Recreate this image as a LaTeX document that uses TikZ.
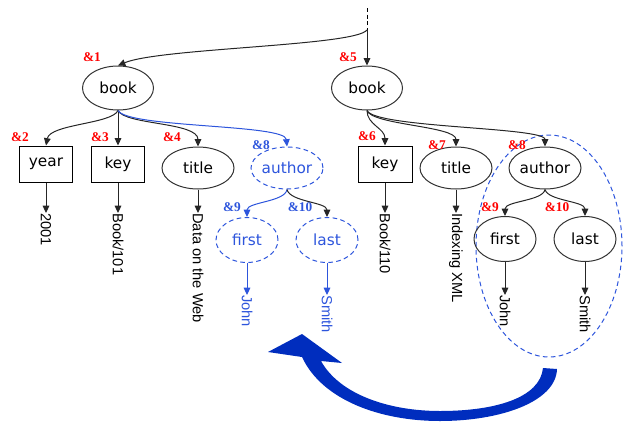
\documentclass[tikz,border=0pt]{standalone}
\usepackage{fontspec}
\setmainfont{DejaVu Sans}
\newfontfamily\vfont{Liberation Sans}
\newfontfamily\lfont{Liberation Serif}
\usetikzlibrary{shapes.geometric,arrows.meta,calc}
\definecolor{bl}{RGB}{45,85,220}
\definecolor{bigbl}{RGB}{0,45,190}
\definecolor{lred}{RGB}{255,0,0}
\tikzset{
  arr/.style={-{Triangle[length=5.5pt,width=5pt]}, line width=0.75pt, draw=black!85},
  barr/.style={arr, draw=bl, -{Triangle[length=5.5pt,width=5pt]}, bl},
  elln/.style={ellipse, draw=black!80, line width=0.75pt, inner sep=0pt,
    minimum width=54pt, minimum height=31.5pt, font=\fontsize{11.5}{12}\selectfont},
  bookn/.style={elln, minimum width=53.25pt, minimum height=33pt},
  smalln/.style={elln, minimum width=46.5pt, minimum height=33.75pt},
  boxn/.style={rectangle, draw=black, line width=0.75pt, inner sep=0pt,
    minimum width=39.75pt, minimum height=27pt, font=\fontsize{11.5}{12}\selectfont},
  dashn/.style={draw=bl, text=bl, dash pattern=on 3.5pt off 2.5pt},
  vtext/.style={rotate=-90, anchor=west, inner sep=0pt, font=\vfont\fontsize{11}{12}\selectfont},
  lab/.style={inner sep=0pt, text=lred, font=\lfont\bfseries\fontsize{10}{11}\selectfont},
  blab/.style={lab, text=bl},
}
\begin{document}
\begin{tikzpicture}[x=0.75pt,y=-0.75pt]
\useasboundingbox (0,0) rectangle (624,422);
% group ellipse
\node[ellipse, draw=bl, line width=0.75pt, dash pattern=on 3.5pt off 2.5pt,
  minimum width=109.5pt, minimum height=166.5pt, inner sep=0pt] (grp) at (549,246) {};
% nodes
\node[bookn] (book1) at (118,88) {book};
\node[bookn] (book2) at (367,88) {book};
\node[boxn] (year) at (46,164) {year};
\node[boxn] (key) at (118,164) {key};
\node[elln] (title) at (198,168) {title};
\node[elln, dashn] (authB) at (287,168) {author};
\node[smalln, dashn] (firstB) at (247,240) {first};
\node[smalln, dashn] (lastB) at (327,240) {last};
\node[boxn, minimum width=40.5pt] (key2) at (385,164) {key};
\node[elln] (title2) at (456,168) {title};
\node[elln] (author2) at (545,168) {author};
\node[smalln] (first2) at (505,239) {first};
\node[smalln] (last2) at (585,239) {last};
% value texts
\node[vtext] (v1) at (46,213) {2001};
\node[vtext] (v2) at (118,213) {Book/101};
\node[vtext] (v3) at (198,213) {Data on the Web};
\node[vtext, text=bl] (v4) at (247,295) {John};
\node[vtext, text=bl] (v5) at (327,295) {Smith};
\node[vtext] (v6) at (385,213) {Book/110};
\node[vtext] (v7) at (456,213) {Indexing XML};
\node[vtext] (v8) at (505,295) {John};
\node[vtext] (v9) at (585,295) {Smith};
% labels
\node[lab] (l1) at (92,57) {\&1};
\node[lab] (l2) at (20,137) {\&2};
\node[lab] (l3) at (100,137) {\&3};
\node[lab] (l4) at (172,137) {\&4};
\node[blab] (l8b) at (261,145) {\&8};
\node[blab] (l9b) at (232,207) {\&9};
\node[blab] (l10b) at (300,207) {\&10};
\node[lab] (l5) at (348,57) {\&5};
\node[lab] (l6) at (367,136) {\&6};
\node[lab] (l7) at (437,145) {\&7};
\node[lab] (l8) at (517,145) {\&8};
\node[lab] (l9) at (490,207) {\&9};
\node[lab] (l10) at (557,207) {\&10};
% root connectors
\coordinate (top) at (367,8);
\coordinate (split) at (367,30);
\draw[line width=0.75pt, dash pattern=on 3pt off 2pt] (top) -- (split);
\draw[arr] (split) -- (book2.north);
\draw[arr] (split) .. controls (355,46) and (160,48) .. (book1.north);
% book1 children
\draw[arr] (book1.south) .. controls (112,124) and (50,124) .. (year.north);
\draw[arr] (book1.south) -- (key.north);
\draw[arr] (book1.south) .. controls (125,125) and (198,122) .. (title.north);
\draw[barr] (book1.south) .. controls (128,128) and (285,124) .. (authB.north);
% book2 children
\draw[arr] (book2.south) .. controls (367,125) and (385,128) .. (key2.north);
\draw[arr] (book2.south) .. controls (372,125) and (456,126) .. (title2.north);
\draw[arr] (book2.south) .. controls (375,128) and (545,127) .. (author2.north);
% authors
\draw[barr] (authB.south) .. controls (285,202) and (247,202) .. (firstB.north);
\draw[arr] (authB.south) .. controls (290,202) and (327,202) .. (lastB.north);
\draw[arr] (author2.south) .. controls (543,201) and (505,201) .. (first2.north);
\draw[arr] (author2.south) .. controls (548,201) and (585,201) .. (last2.north);
% value connectors
\draw[arr] (year.south) -- (v1.west);
\draw[arr] (key.south) -- (v2.west);
\draw[arr] (title.south) -- (v3.west);
\draw[barr] (firstB.south) -- (v4.west);
\draw[barr] (lastB.south) -- (v5.west);
\draw[arr] (key2.south) -- (v6.west);
\draw[arr] (title2.south) -- (v7.west);
\draw[arr] (first2.south) -- (v8.west);
\draw[arr] (last2.south) -- (v9.west);
% big curved arrow
\fill[bigbl] (557,369) .. controls (556,402) and (500,421) .. (440,421)
  .. controls (380,421) and (322,400) .. (302,357)
  -- (268,352) -- (302,334) -- (342,363) -- (321,361)
  .. controls (340,395) and (390,411) .. (440,411)
  .. controls (495,411) and (540,398) .. (543,368) -- cycle;
\end{tikzpicture}
\end{document}
